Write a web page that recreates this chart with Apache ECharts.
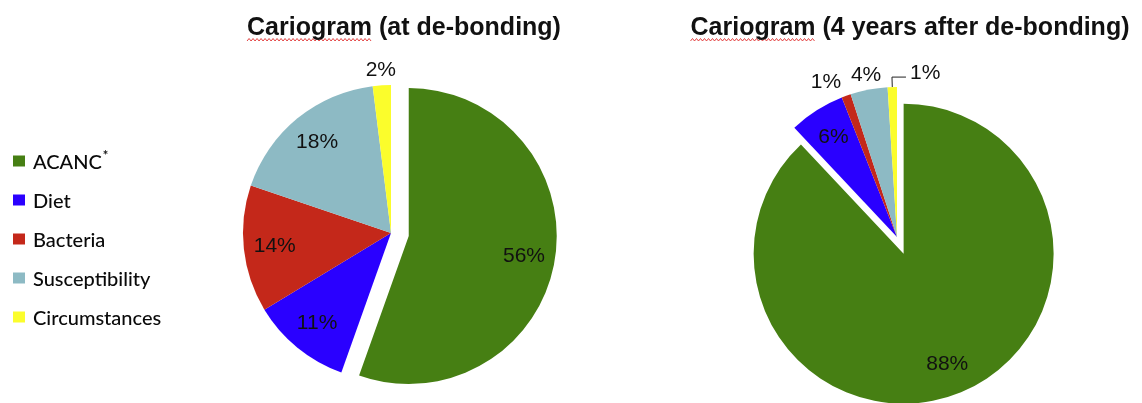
<!DOCTYPE html>
<html><head><meta charset="utf-8">
<script src="https://cdn.jsdelivr.net/npm/echarts@6/dist/echarts.min.js"></script>
<style>html,body{margin:0;padding:0;background:#fff}#c{width:1142px;height:403px}</style>
</head><body><div id="c"></div>
<script>
const categories = ['ACANC', 'Diet', 'Bacteria', 'Susceptibility', 'Circumstances'];
const atDebonding = [56, 11, 14, 18, 2];
const fourYearsAfter = [88, 6, 1, 4, 1];
const chartTitles = ['Cariogram (at de-bonding)', 'Cariogram (4 years after de-bonding)'];
const colors = ['#467f13', '#2a00ff', '#c4281a', '#8dbac4', '#fbfd2c'];

const labelFont = { fontFamily: 'Liberation Sans, Arial, sans-serif', fontSize: 21, color: '#111' };

function makePie(values, center, radius, lineLeaderIndex) {
  const base = values.map((v, i) => ({ name: categories[i], value: v, selected: i === 0 }));
  const common = {
    type: 'pie', center: center, startAngle: 90, clockwise: true,
    selectedMode: 'multiple', selectedOffset: 18, avoidLabelOverlap: false,
    emphasis: { disabled: true }, animation: false
  };
  const visible = Object.assign({}, common, {
    radius: radius,
    itemStyle: { color: p => colors[p.dataIndex] },
    label: Object.assign({ show: true, position: 'outside', formatter: '{c}%', distanceToLabelLine: 0 }, labelFont),
    labelLine: { show: false, length: 15, length2: 0, lineStyle: { color: '#222', width: 1 } },
    data: base.map((d, i) => Object.assign({}, d, {
      label: { show: d.value < 5 },
      labelLine: i === lineLeaderIndex ? { show: true, length: 10, length2: 14 } : { show: false }
    })),
    labelLayout: function (p) {
      if (p.dataIndex === lineLeaderIndex && p.labelLinePoints) {
        const pts = p.labelLinePoints;
        const p1 = pts[1];
        const end = [p1[0] + 14, p1[1]];
        return { x: end[0] + 4, y: end[1] - 4, align: 'left', verticalAlign: 'middle',
                 labelLinePoints: [pts[0], p1, end] };
      }
      if (values[p.dataIndex] < 5 && values[p.dataIndex] > 1) return { align: 'center' };
      return {};
    }
  });
  const overlay = Object.assign({}, common, {
    radius: [0, radius * 1.54], silent: true, legendHoverLink: false,
    itemStyle: { color: 'rgba(0,0,0,0)' },
    label: Object.assign({ show: true, position: 'inside', formatter: '{c}%' }, labelFont),
    labelLine: { show: false },
    data: base.map(d => Object.assign({}, d, { label: { show: d.value >= 5 } }))
  });
  return [visible, overlay];
}

const titleStyle = { fontFamily: 'Liberation Sans, Arial, sans-serif', fontSize: 25, fontWeight: 'bold', color: '#111' };
const titleCenters = [404, 910];

// red wavy "spell-check" underline under the first word of each title (decoration)
const measureCtx = document.createElement('canvas').getContext('2d');
measureCtx.font = 'bold 25px "Liberation Sans", Arial, sans-serif';
function wavy(title, cx) {
  const full = measureCtx.measureText(title).width;
  const word = measureCtx.measureText(title.split(' ')[0]).width;
  const x0 = cx - full / 2, x1 = x0 + word;
  const pts = [];
  let k = 0;
  for (let x = x0; x <= x1; x += 2, k++) pts.push([x, k % 2 ? 38.5 : 41]);
  return { type: 'polyline', shape: { points: pts }, style: { stroke: '#e03030', lineWidth: 0.9, fill: null }, silent: true };
}

const chart = echarts.init(document.getElementById('c'), null, { renderer: 'canvas' });
chart.setOption({
  backgroundColor: '#fff',
  color: colors,
  title: chartTitles.map((t, i) => ({ text: t, left: titleCenters[i], top: 16, padding: 0, textAlign: 'center', textStyle: titleStyle })),
  graphic: chartTitles.map((t, i) => wavy(t, titleCenters[i])),
  legend: {
    orient: 'vertical', left: 13, top: 149, padding: 0, itemWidth: 12, itemHeight: 11, itemGap: 15,
    icon: 'rect', selectedMode: false,
    data: categories.map((c, i) => ({ name: c, itemStyle: { color: colors[i] } })),
    formatter: n => n === 'ACANC' ? n + '{sup|*}' : n,
    textStyle: { fontFamily: 'Lato, sans-serif', fontSize: 20, fontWeight: 500, color: '#0a0a0a', lineHeight: 20, padding: [4, 0, 0, 3],
      rich: { sup: { fontSize: 13, fontWeight: 'bold', fontFamily: 'Lato, sans-serif', padding: [0, 0, 14, 1], color: '#111' } } }
  },
  series: [].concat(
    makePie(atDebonding, [391, 233], 148, -1),
    makePie(fourYearsAfter, [897, 237], 150, 4)
  )
});
</script></body></html>
